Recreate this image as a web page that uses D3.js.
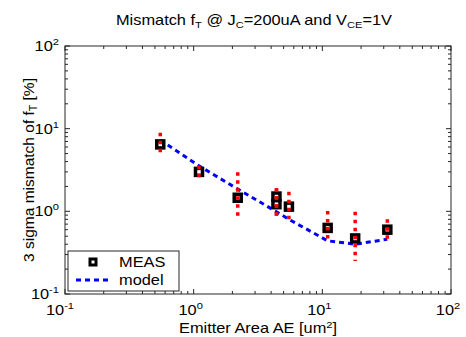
<!DOCTYPE html>
<html>
<head>
<meta charset="utf-8">
<script src="https://cdn.jsdelivr.net/npm/d3@7"></script>
<style>
  body { margin: 0; background: white; }
  text { font-family: "Liberation Sans", Arial, sans-serif; fill: #000; }
</style>
</head>
<body>
<div id="chart"></div>
<script>
// measured points (emitter area in um^2, 3 sigma mismatch in %)
const measAE = [0.55, 1.1, 2.2, 4.4, 4.4, 5.5, 11, 18, 32];
const measVal = [6.45, 3.0, 1.46, 1.51, 1.22, 1.14, 0.63, 0.47, 0.60];
const errHi = [8.9, 3.55, 2.97, 1.9, 1.9, 1.73, 1.01, 0.99, 0.80];
const errLo = [5.0, 2.55, 0.78, 0.78, 0.78, 0.73, 0.42, 0.25, 0.45];

// model curve
const modelAE = [0.55, 1.1, 2.2, 4.4, 5.5, 11, 18, 32];
const modelVal = [7.3, 3.55, 1.86, 0.99, 0.8, 0.44, 0.40, 0.46];

const decades = [-1, 0, 1, 2];

let width = 466, height = 337;
let margin = { top: 46, bottom: 43, left: 65, right: 15 };
const stretch = 1.17;   // text in the picture is a bit wide

let svg = d3.select('#chart')
    .append('svg')
    .attr('width', width)
    .attr('height', height)
    .style('background', 'white');

let xScale = d3.scaleLog()
    .domain([0.1, 100])
    .range([margin.left, width - margin.right]);

let yScale = d3.scaleLog()
    .domain([0.1, 100])
    .range([height - margin.bottom, margin.top]);

const x0 = margin.left, x1 = width - margin.right;
const y0 = height - margin.bottom, y1 = margin.top;

// text placed at x,y, stretched horizontally
function wideText(x, y, anchor, size) {
  return svg.append('text')
    .attr('transform', `translate(${x},${y}) scale(${stretch},1)`)
    .attr('text-anchor', anchor)
    .style('font-size', size + 'px');
}

// all ticks (major + minor)
let allTicks = [];
decades.slice(0, 3).forEach(e => {
  for (let k = 1; k < 10; k++) allTicks.push(k * Math.pow(10, e));
});
allTicks.push(100);

const axisColor = '#262626';

// box
svg.append('rect')
  .attr('x', x0).attr('y', y1)
  .attr('width', x1 - x0).attr('height', y0 - y1)
  .attr('fill', 'none')
  .attr('stroke', axisColor)
  .attr('stroke-width', 1);

// ticks on all four sides, pointing inward
allTicks.forEach(t => {
  const major = Math.abs(Math.log10(t) - Math.round(Math.log10(t))) < 1e-9;
  const len = major ? 5 : 3;
  const x = xScale(t), y = yScale(t);
  svg.append('line').attr('x1', x).attr('x2', x).attr('y1', y0).attr('y2', y0 - len)
    .attr('stroke', axisColor);
  svg.append('line').attr('x1', x).attr('x2', x).attr('y1', y1).attr('y2', y1 + len)
    .attr('stroke', axisColor);
  svg.append('line').attr('x1', x0).attr('x2', x0 + len).attr('y1', y).attr('y2', y)
    .attr('stroke', axisColor);
  svg.append('line').attr('x1', x1).attr('x2', x1 - len).attr('y1', y).attr('y2', y)
    .attr('stroke', axisColor);
});

// tick labels 10^n
decades.forEach(e => {
  let tx = wideText(xScale(Math.pow(10, e)) - (e < 0 ? 5 : 3), y0 + 21, 'middle', 14);
  tx.append('tspan').text('10');
  tx.append('tspan').text(e).attr('dy', -6).style('font-size', '9.5px');

  let ty = wideText(x0 - 6, yScale(Math.pow(10, e)) + 5, 'end', 14);
  ty.append('tspan').text('10');
  ty.append('tspan').text(e).attr('dy', -6).style('font-size', '9.5px');
});

// title
let title = wideText((x0 + x1) / 2 - 4, 25, 'middle', 14);
title.append('tspan').text('Mismatch f');
title.append('tspan').text('T').attr('dy', 3).style('font-size', '9.5px');
title.append('tspan').text(' @ J').attr('dy', -3);
title.append('tspan').text('C').attr('dy', 3).style('font-size', '9.5px');
title.append('tspan').text('=200uA and V').attr('dy', -3);
title.append('tspan').text('CE').attr('dy', 3).style('font-size', '9.5px');
title.append('tspan').text('=1V').attr('dy', -3);

// x label
let xl = wideText((x0 + x1) / 2, height - 4, 'middle', 14);
xl.append('tspan').text('Emitter Area AE [um');
xl.append('tspan').text('2').attr('dy', -5).style('font-size', '9.5px');
xl.append('tspan').text(']').attr('dy', 5);

// y label
let yl = svg.append('text')
  .attr('transform', `translate(34,${(y0 + y1) / 2}) rotate(-90)`)
  .attr('text-anchor', 'middle')
  .style('font-size', '15.5px');
yl.append('tspan').text('3 sigma mismatch of f');
yl.append('tspan').text('T').attr('dy', 3).style('font-size', '10.5px');
yl.append('tspan').text(' [%]').attr('dy', -3);

// model line
const line = d3.line()
  .x((d, i) => xScale(modelAE[i]))
  .y((d, i) => yScale(modelVal[i]));

svg.append('path')
  .datum(modelVal)
  .attr('d', line)
  .attr('fill', 'none')
  .attr('stroke', '#0000ff')
  .attr('stroke-width', 3)
  .attr('stroke-dasharray', '5,4');

// measurement squares
measAE.forEach((a, i) => {
  svg.append('rect')
    .attr('x', xScale(a) - 3.5)
    .attr('y', yScale(measVal[i]) - 3.5)
    .attr('width', 7)
    .attr('height', 7)
    .attr('fill', 'white')
    .attr('stroke', 'black')
    .attr('stroke-width', 3.5);
});

// error bars, red dotted
measAE.forEach((a, i) => {
  svg.append('line')
    .attr('x1', xScale(a)).attr('x2', xScale(a))
    .attr('y1', yScale(errHi[i])).attr('y2', yScale(errLo[i]))
    .attr('stroke', '#ff0000')
    .attr('stroke-width', 3.5)
    .attr('stroke-dasharray', '3.5,4.5');
});

// legend
let legend = svg.append('g');
legend.append('rect')
  .attr('x', 68).attr('y', 251)
  .attr('width', 111).attr('height', 40)
  .attr('fill', 'white')
  .attr('stroke', axisColor);

legend.append('rect')
  .attr('x', 93 - 3).attr('y', 262 - 3)
  .attr('width', 6).attr('height', 6)
  .attr('fill', 'white')
  .attr('stroke', 'black')
  .attr('stroke-width', 3);
let lt1 = legend.append('text')
  .attr('transform', `translate(119,267) scale(${stretch},1)`)
  .style('font-size', '14px')
  .text('MEAS');

legend.append('line')
  .attr('x1', 76).attr('x2', 108)
  .attr('y1', 280).attr('y2', 280)
  .attr('stroke', '#0000ff')
  .attr('stroke-width', 3)
  .attr('stroke-dasharray', '5,4');
legend.append('text')
  .attr('transform', `translate(119,285) scale(${stretch},1)`)
  .style('font-size', '14px')
  .text('model');
</script>
</body>
</html>
